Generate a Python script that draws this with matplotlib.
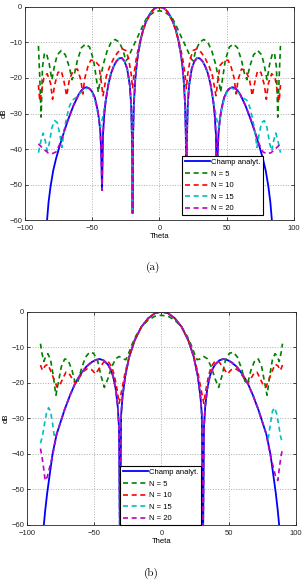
import numpy as np
import matplotlib.pyplot as plt

# Radiation patterns (right half, theta >= 0).
# Both patterns are symmetric about theta = 0, the left half is the mirror image.

# ---- (a) ----
theta_ana_a = [0, 2, 4, 6, 8, 10, 12, 14, 16, 17, 18, 19, 19.6, 20, 20.4, 21, 22, 24, 26, 28,
               30, 32, 34, 36, 38, 40, 41, 42, 42.7, 43.4, 44, 45, 46, 48, 50, 52, 54, 56, 58,
               60, 64, 68, 71, 74, 77, 79, 81, 82.5, 83.6, 85]
db_ana_a = [0, -0.15, -0.6, -1.4, -2.6, -4.2, -6.3, -9.3, -13.5, -16.5, -20.5, -27, -36, -58,
            -38, -28, -22.2, -17.4, -15.3, -14.4, -14.5, -15.3, -16.7, -18.7, -21.8, -26.5,
            -30, -36, -51.5, -40, -35, -31.5, -29, -25.6, -23.9, -23.0, -22.6, -22.8, -23.5,
            -24.6, -27.8, -31.8, -35.2, -38.8, -42.8, -46, -50.5, -55, -60, -67]

theta_n5_a = [0, 4, 8, 10, 13, 16, 19, 21.5, 23.5, 25, 27, 30, 33, 36, 39, 42, 44, 45.5, 47,
              49, 52, 55, 58, 61, 63, 65, 67, 70, 73, 76, 78, 80, 82, 84, 85.5, 87, 88, 89, 90]
db_n5_a = [-1.1, -1.5, -2.6, -3.5, -5.8, -8.3, -10.7, -12.8, -14.6, -15.2, -12.3, -9.9, -9.2,
           -10, -12.5, -16.5, -20.5, -24, -20, -15, -11.3, -10.5, -11.5, -15, -18.5, -20.5,
           -17, -13.5, -12.3, -13.5, -16.5, -20.5, -16, -13.2, -13, -17, -31, -20, -11]

theta_n10_a = [0, 5, 10, 14, 17, 19, 20, 21, 23, 25, 28, 31, 34, 37, 39.5, 42, 43.5, 45, 48,
               51, 53, 55.5, 57, 58.5, 61, 64, 67, 69, 71, 73, 75.5, 78, 79.5, 81, 83.5, 86,
               88, 89, 90]
db_n10_a = [-0.1, -1.0, -4.3, -9, -14, -19, -23, -19, -14.5, -12.3, -11.8, -12.8, -14.5, -16.8,
            -19.5, -25, -20.5, -16.5, -15.2, -15, -16.5, -20, -24.5, -20.5, -17.5, -17.8,
            -20.5, -25, -21, -18, -18.5, -22, -26, -21.5, -18.8, -20, -24.5, -26.5, -22]

# N = 15 and N = 20 lie on the analytic curve near the main lobe, own values further out
theta_n15_a_tail = [41, 42.5, 44, 45.5, 47, 50, 53, 56, 59, 62, 65, 67, 69, 71, 72.5, 74, 76,
                    78, 80, 82, 83.5, 85, 86.5, 88, 90]
db_n15_a_tail = [-28.5, -31.5, -34, -30.5, -27.5, -24, -22.8, -23.2, -24.3, -25.5, -26.3, -28,
                 -31, -35, -39.5, -36, -32.5, -32, -34, -38.5, -40.5, -37.5, -35.5, -37.5, -41]
theta_n20_a_tail = [71, 74, 77, 80, 83, 86, 88, 90]
db_n20_a_tail = [-35, -38.5, -40.8, -41.3, -41, -40, -39.3, -38.5]

# ---- (b) ----
theta_ana_b = [0, 5, 10, 15, 20, 24, 27, 29, 30, 30.8, 31.6, 32.5, 34, 36, 38, 40, 43, 46, 49,
               52, 56, 60, 64, 68, 72, 75, 78, 81, 83, 85, 86.5, 87.5, 89]
db_ana_b = [0, -0.45, -1.9, -4.3, -8.1, -12.7, -18.2, -24, -29, -70, -32.5, -26.8, -21.8, -18.1,
            -16.1, -14.8, -13.7, -13.3, -13.6, -14.2, -15.5, -17.5, -20, -23.5, -27.5, -31,
            -34.5, -40, -45.5, -51, -56, -60, -68]

theta_n5_b = [0, 5, 10, 15, 19, 22, 24.5, 26.5, 28.5, 31.5, 34, 37, 40, 42.5, 45, 47.5, 50.5,
              53.5, 56.5, 59.5, 62, 64, 66.5, 69.5, 72, 74.5, 77, 78.5, 80.5, 82.5, 84.5, 86,
              87.5, 89, 90]
db_n5_b = [-1.0, -1.3, -2.4, -4.3, -6.8, -9.3, -11.8, -13.5, -13.3, -12.6, -13.2, -15.5, -19,
           -21.3, -18, -13.8, -11.7, -11.4, -12.8, -16, -19.5, -20.3, -16.5, -13.6, -13.3,
           -15.5, -20.5, -23.5, -18, -13.5, -11.8, -12.5, -14, -11.5, -9]

theta_n10_b = [0, 5, 10, 15, 20, 24, 27, 29.5, 31.5, 33, 35, 37, 40, 43, 46, 49, 52, 55, 58,
               61, 64, 66.5, 69, 71, 73, 75.5, 77.5, 79.5, 82, 84.5, 86.5, 88.5, 90]
db_n10_b = [0, -0.45, -1.9, -4.3, -8.1, -12.7, -17, -22, -25.8, -22, -18, -15.5, -13.8, -14.2,
            -15.8, -17.5, -16.3, -16, -16.8, -18.5, -20.2, -18.8, -17.2, -17, -18.5, -20.5,
            -21.3, -19.5, -17, -14.8, -15.2, -16.5, -15]

theta_n15_b_tail = [79.5, 81, 82.5, 84, 85.5, 87, 88.5, 90]
db_n15_b_tail = [-35.5, -31.5, -28, -27, -28.5, -31.5, -35, -37]
theta_n20_b_tail = [81, 83, 85, 86.5, 88, 89, 90]
db_n20_b_tail = [-40.5, -43.5, -46.5, -47.5, -43, -40.5, -38.5]

labels = ['Champ analyt.', 'N = 5', 'N = 10', 'N = 15', 'N = 20']
colors = ['b', 'g', 'r', 'c', 'm']


def mirror(th, db):
    th = np.asarray(th, float)
    db = np.asarray(db, float)
    return np.r_[-th[:0:-1], th], np.r_[db[:0:-1], db]


def join(th_head, db_head, upto, th_tail, db_tail):
    th_head = np.asarray(th_head, float)
    keep = th_head <= upto
    return (np.r_[th_head[keep], th_tail], np.r_[np.asarray(db_head, float)[keep], db_tail])


curves_a = [
    (theta_ana_a, db_ana_a),
    (theta_n5_a, db_n5_a),
    (theta_n10_a, db_n10_a),
    join(theta_ana_a, db_ana_a, 40, theta_n15_a_tail, db_n15_a_tail),
    join(theta_ana_a, db_ana_a, 68, theta_n20_a_tail, db_n20_a_tail),
]
curves_b = [
    (theta_ana_b, db_ana_b),
    (theta_n5_b, db_n5_b),
    (theta_n10_b, db_n10_b),
    join(theta_ana_b, db_ana_b, 78, theta_n15_b_tail, db_n15_b_tail),
    join(theta_ana_b, db_ana_b, 78, theta_n20_b_tail, db_n20_b_tail),
]

plt.rcParams['font.family'] = ['Liberation Sans', 'DejaVu Sans']

fig = plt.figure(figsize=(3.07, 5.86), dpi=100)
ax_a = fig.add_axes([0.0814, 0.624, 0.876, 0.3645])
ax_b = fig.add_axes([0.088, 0.1041, 0.876, 0.364])


def draw(ax, curves, legend_anchor):
    for i, (th, db) in enumerate(curves):
        th, db = mirror(th, db)
        if i == 0:
            ax.plot(th, db, color=colors[i], lw=1.3, label=labels[i])
        else:
            ax.plot(th, db, color=colors[i], lw=1.2, ls=(0, (3, 2.2)), label=labels[i])
    ax.set_xlim(-100, 100)
    ax.set_ylim(-60, 0)
    ax.set_xticks([-100, -50, 0, 50, 100])
    ax.set_yticks([-60, -50, -40, -30, -20, -10, 0])
    ax.grid(True, ls=':', color='#b0b0b0', lw=0.7)
    ax.tick_params(direction='in', length=2.5, width=0.6, labelsize=5.5, pad=2,
                   top=True, right=True, colors='#262626')
    ax.tick_params(axis='x', pad=3.6)
    for s in ax.spines.values():
        s.set_linewidth(0.6)
        s.set_color('#262626')
    ax.set_xlabel('Theta', fontsize=5.5, labelpad=0.5)
    ax.set_ylabel('dB', fontsize=5.5, labelpad=1)
    leg = ax.legend(loc='lower left', bbox_to_anchor=legend_anchor, fontsize=5.5,
                    handlelength=3.3, handletextpad=0.15, labelspacing=0.55,
                    borderpad=0.35, borderaxespad=0, fancybox=False, framealpha=1)
    leg.get_frame().set_edgecolor('black')
    leg.get_frame().set_linewidth(0.8)


draw(ax_a, curves_a, (0.584, 0.025, 0.33, 0.285))
draw(ax_b, curves_b, (0.346, 0.0, 0.328, 0.292))

fig.text(0.497, 0.5444, '(a)', family='cmr10', fontsize=8, ha='center', va='center')
fig.text(0.494, 0.0222, '(b)', family='cmr10', fontsize=8, ha='center', va='center')

fig.savefig('out.png', dpi=100)
